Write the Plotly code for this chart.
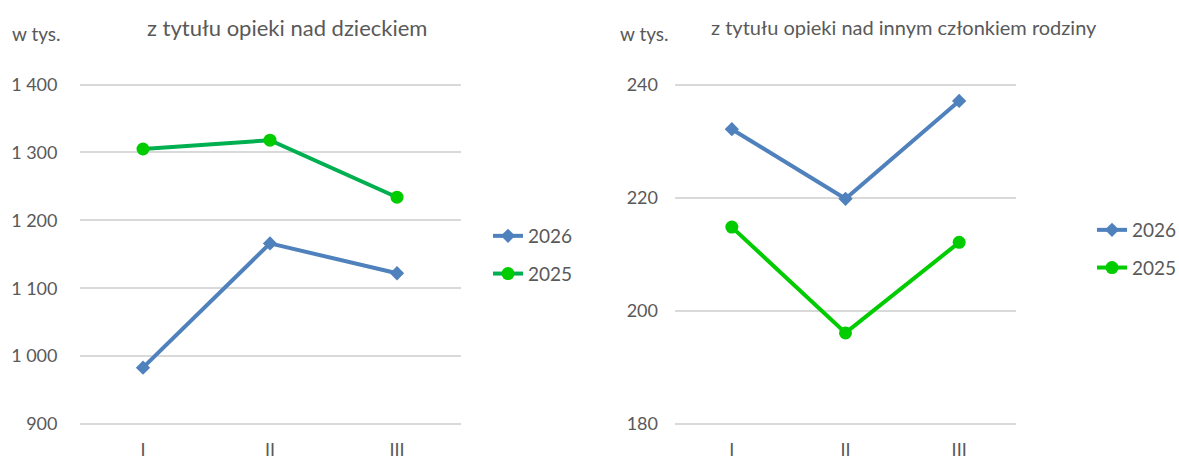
import plotly.graph_objects as go

categories = ["I", "II", "III"]
child_2026 = [983, 1166, 1122]
child_2025 = [1305, 1318, 1234]
family_2026 = [232.1, 219.8, 237.1]
family_2025 = [214.8, 196.1, 212.1]
series_names = ["2026", "2025"]
title_left = "z tytułu opieki nad dzieckiem"
title_right = "z tytułu opieki nad innym członkiem rodziny"
unit = "w tys."
left_ticks = [900, 1000, 1100, 1200, 1300, 1400]
left_ticktext = ["900", "1 000", "1 100", "1 200", "1 300", "1 400"]
right_ticks = [180, 200, 220, 240]

W, H = 1179, 457
FONT = "Lato"
GRAY = "#595959"
BLUE = "#4F81BD"
GREEN_DARK = "#00B050"
GREEN = "#00CC00"

def px_x(p):
    return p / W

def px_y(p):
    return (H - p) / H

top_px, bot_px = 60, 437
fig = go.Figure()

fig.add_trace(go.Scatter(x=categories, y=child_2026, name=series_names[0], mode="lines+markers",
                         line=dict(color=BLUE, width=4), marker=dict(symbol="diamond", size=11, color=BLUE),
                         xaxis="x", yaxis="y", legend="legend", legendgroup="a"))
fig.add_trace(go.Scatter(x=categories, y=child_2025, name=series_names[1], mode="lines+markers",
                         line=dict(color=GREEN_DARK, width=4), marker=dict(symbol="circle", size=13, color=GREEN),
                         xaxis="x", yaxis="y", legend="legend", legendgroup="b"))
fig.add_trace(go.Scatter(x=categories, y=family_2026, name=series_names[0], mode="lines+markers",
                         line=dict(color=BLUE, width=4), marker=dict(symbol="diamond", size=11, color=BLUE),
                         xaxis="x2", yaxis="y2", legend="legend2", legendgroup="c"))
fig.add_trace(go.Scatter(x=categories, y=family_2025, name=series_names[1], mode="lines+markers",
                         line=dict(color=GREEN, width=4), marker=dict(symbol="circle", size=13, color=GREEN),
                         xaxis="x2", yaxis="y2", legend="legend2", legendgroup="d"))

ls = (424 - 84.5) / 500.0
l_top = 1400 + (84.5 - top_px) / ls
l_bot = 900 - (bot_px - 424) / ls
rs = (424 - 84.5) / 60.0
r_top = 240 + (84.5 - top_px) / rs
r_bot = 180 - (bot_px - 424) / rs

tickfont = dict(family=FONT, size=18, color=GRAY)
common_x = dict(showgrid=False, zeroline=False, showline=False, ticks="", tickfont=tickfont,
                range=[-0.5, 2.5], type="category", automargin=False)
common_y = dict(showgrid=True, gridcolor="#D9D9D9", gridwidth=1.5, zeroline=False, showline=False,
                ticks="", tickfont=tickfont, automargin=False)

legend_font = dict(family=FONT, size=19, color=GRAY)

fig.update_layout(
    width=W, height=H,
    margin=dict(l=0, r=0, t=0, b=0, autoexpand=False),
    paper_bgcolor="white", plot_bgcolor="white",
    font=dict(family=FONT, color=GRAY),
    hovermode=False,
    xaxis=dict(domain=[px_x(79.5), px_x(460.5)], anchor="y", **common_x),
    yaxis=dict(domain=[px_y(bot_px), px_y(top_px)], anchor="x", range=[l_bot, l_top],
               tickvals=left_ticks, ticktext=left_ticktext, ticklabelstandoff=21, **common_y),
    xaxis2=dict(domain=[px_x(675), px_x(1016)], anchor="y2", **common_x),
    yaxis2=dict(domain=[px_y(bot_px), px_y(top_px)], anchor="x2", range=[r_bot, r_top],
                tickvals=right_ticks, ticklabelstandoff=16, **common_y),
    legend=dict(x=px_x(488), y=px_y(217), xanchor="left", yanchor="top", font=legend_font,
                traceorder="grouped", tracegroupgap=10, bgcolor="rgba(0,0,0,0)"),
    legend2=dict(x=px_x(1092), y=px_y(211), xanchor="left", yanchor="top", font=legend_font,
                 traceorder="grouped", tracegroupgap=10, bgcolor="rgba(0,0,0,0)"),
    annotations=[
        dict(text=title_left, x=px_x(287), y=px_y(27), xref="paper", yref="paper", showarrow=False,
             xanchor="center", yanchor="middle", font=dict(family=FONT, size=22, color=GRAY)),
        dict(text=title_right, x=px_x(904), y=px_y(27), xref="paper", yref="paper", showarrow=False,
             xanchor="center", yanchor="middle", font=dict(family=FONT, size=20, color=GRAY)),
        dict(text=unit, x=px_x(36), y=px_y(33), xref="paper", yref="paper", showarrow=False,
             xanchor="center", yanchor="middle", font=dict(family=FONT, size=19, color=GRAY)),
        dict(text=unit, x=px_x(645), y=px_y(33), xref="paper", yref="paper", showarrow=False,
             xanchor="center", yanchor="middle", font=dict(family=FONT, size=19, color=GRAY)),
    ],
)

fig.write_html("out.html", config={"displayModeBar": False},
               post_script="document.body.style.margin='0';document.body.style.overflow='hidden';")
